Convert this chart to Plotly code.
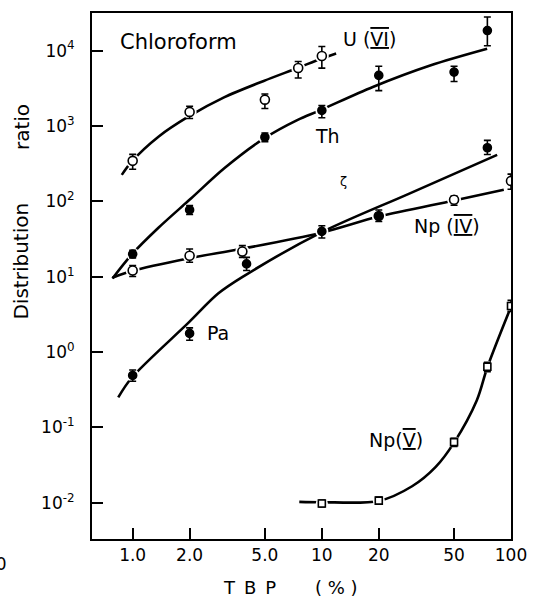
import plotly.graph_objects as go

# ---- measured distribution ratios vs TBP concentration (chloroform diluent) ----
# U(VI)
u6_x = [1.0, 2.0, 5.0, 7.5, 10.0]
u6_y = [345, 1540, 2240, 5900, 8500]
u6_hi = [421, 1830, 2660, 7200, 11350]
u6_lo = [267, 1260, 1710, 4330, 5870]

# Th
th_x = [1.0, 2.0, 5.0, 10.0, 20.0, 50.0, 75.0]
th_y = [20, 77, 710, 1610, 4700, 5200, 18500]
th_hi = [22.5, 88, 810, 1870, 6200, 6200, 28000]
th_lo = [17.8, 67, 620, 1290, 2950, 3900, 11600]

# Np(IV)
np4_x = [1.0, 2.0, 3.8, 20.0, 50.0, 100.0]
np4_y = [12.1, 19, 21.6, 64, 105, 187]
np4_hi = [14.1, 23.4, 25.9, 77, 118, 230]
np4_lo = [10.1, 15.6, 18.1, 54, 89, 145]

# Pa
pa_x = [1.0, 2.0, 4.0, 10.0, 75.0]
pa_y = [0.49, 1.77, 14.8, 40, 515]
pa_hi = [0.58, 2.1, 18.1, 47.6, 645]
pa_lo = [0.41, 1.44, 12.1, 32.7, 420]

# Np(V)
np5_x = [10.0, 20.0, 50.0, 75.0, 100.0]
np5_y = [0.0098, 0.0107, 0.064, 0.64, 4.1]
np5_hi = [0.0109, 0.0119, 0.072, 0.73, 4.86]
np5_lo = [0.0088, 0.0098, 0.056, 0.55, 3.47]

# ---- smooth trend curves (sampled along each fitted line) ----
u6_fit_x = [0.876, 0.988, 1.369, 1.968, 3.04, 4.93, 7.44, 9.82, 11.9]
u6_fit_y = [225, 337, 722, 1330, 2400, 3965, 5890, 7750, 9160]

th_fit_x = [0.782, 0.988, 1.364, 2.04, 3.05, 4.95, 7.41, 9.82, 18.6, 37.7, 74.8]
th_fit_y = [9.5, 19.7, 44.3, 110, 275, 685, 1200, 1625, 3300, 6400, 10600]

np4_fit_x = [0.782, 0.988, 1.961, 3.74, 9.82, 20.0, 50.0, 91.6]
np4_fit_y = [9.68, 11.9, 17.5, 23.4, 38.1, 63, 103, 143]

pa_fit_x = [0.839, 0.988, 1.968, 2.83, 3.87, 9.82, 28.8, 84.5]
pa_fit_y = [0.251, 0.457, 2.44, 5.98, 10.2, 38.2, 126, 414]

np5_fit_x = [7.6, 10.0, 20.0, 30.0, 40.0, 50.0, 66.0, 75.0, 100.0]
np5_fit_y = [0.0103, 0.0102, 0.0106, 0.0166, 0.030, 0.063, 0.23, 0.63, 4.0]

# axis ticks
x_ticks = [1, 2, 5, 10, 20, 50, 100]
x_labels = ["1.0", "2.0", "5.0", "10", "20", "50", "100"]
y_ticks = [1e-2, 1e-1, 1e0, 1e1, 1e2, 1e3, 1e4]
y_labels = ["10<sup>-2</sup>", "10<sup>-1</sup>", "10<sup>0</sup>", "10<sup>1</sup>",
            "10<sup>2</sup>", "10<sup>3</sup>", "10<sup>4</sup>"]

FONT = "DejaVu Sans"
W, H = 538, 601
L, R, T, B = 92, 24, 11, 62
PW, PH = W - L - R, H - T - B


def px(xp):
    return (xp - L) / PW


def py(yp):
    return 1 - (yp - T) / PH


fig = go.Figure()

for fx, fy in [(u6_fit_x, u6_fit_y), (th_fit_x, th_fit_y), (np4_fit_x, np4_fit_y),
               (pa_fit_x, pa_fit_y), (np5_fit_x, np5_fit_y)]:
    fig.add_trace(go.Scatter(x=fx, y=fy, mode="lines",
                             line=dict(color="black", width=2.6, shape="spline", smoothing=0.9),
                             hoverinfo="skip"))

series = [
    (u6_x, u6_y, u6_hi, u6_lo, "circle", "white", 9),
    (th_x, th_y, th_hi, th_lo, "circle", "black", 8),
    (np4_x, np4_y, np4_hi, np4_lo, "circle",
     ["white", "white", "white", "black", "white", "white"], 9),
    (pa_x, pa_y, pa_hi, pa_lo, "circle", "black", 8),
    (np5_x, np5_y, np5_hi, np5_lo, "square", "white", 7),
]

# white halo so the curves break around each data point
for x, y, hi, lo, sym, fill, size in series:
    fig.add_trace(go.Scatter(x=x, y=y, mode="markers", hoverinfo="skip",
                             marker=dict(symbol="circle", size=size + 5, color="white",
                                         line=dict(width=0))))

for x, y, hi, lo, sym, fill, size in series:
    fig.add_trace(go.Scatter(
        x=x, y=y, mode="markers",
        marker=dict(symbol=sym, size=size, color=fill,
                    line=dict(color="black", width=1.6)),
        error_y=dict(type="data", symmetric=False,
                     array=[h - v for h, v in zip(hi, y)],
                     arrayminus=[v - l for v, l in zip(y, lo)],
                     color="black", thickness=1.6, width=3.5),
    ))

axis_common = dict(type="log", showline=True, linecolor="black", linewidth=2,
                   mirror=True, showgrid=False, zeroline=False, ticks="inside",
                   ticklen=11, tickwidth=1.5, tickcolor="black",
                   tickfont=dict(family=FONT, size=17, color="black"))

fig.update_xaxes(range=[-0.215, 2.0], tickvals=x_ticks, ticktext=x_labels, **axis_common)
fig.update_yaxes(range=[-2.48, 4.50], tickvals=y_ticks, ticktext=y_labels,
                 ticklabelstandoff=12, **axis_common)


def label(text, xp, yp, size=19, angle=0):
    fig.add_annotation(text=text, x=px(xp), y=py(yp), xref="paper", yref="paper",
                       showarrow=False, textangle=angle, xanchor="center", yanchor="middle",
                       font=dict(family=FONT, size=size, color="black"))


def roman(numeral):
    return '<span style="text-decoration:underline overline">' + numeral + "</span>"


label("Chloroform", 179, 40, size=21)
label("U (" + roman("VI") + ")", 371, 37)
label("Th", 329, 134)
label("Np (" + roman("IV") + ")", 450, 225)
label("Pa", 219, 332)
label("Np(" + roman("V") + ")", 398, 440)
label("ζ", 345, 180, size=13)

label("Distribution", 21, 260, size=20, angle=-90)
label("ratio", 21, 126, size=20, angle=-90)
label("T\u2002B\u2002P", 251, 588, size=18)
label("(\u00a0%\u00a0)", 338, 588, size=18)

# clipped tick label from the neighbouring panel
fig.add_annotation(text="100", x=px(7), y=py(564), xref="paper", yref="paper",
                   showarrow=False, xanchor="right", yanchor="middle",
                   font=dict(family=FONT, size=17, color="black"))

fig.update_layout(width=W, height=H, margin=dict(l=L, r=R, t=T, b=B),
                  plot_bgcolor="white", paper_bgcolor="white", showlegend=False,
                  font=dict(family=FONT, color="black"))

fig.write_html("out.html")
